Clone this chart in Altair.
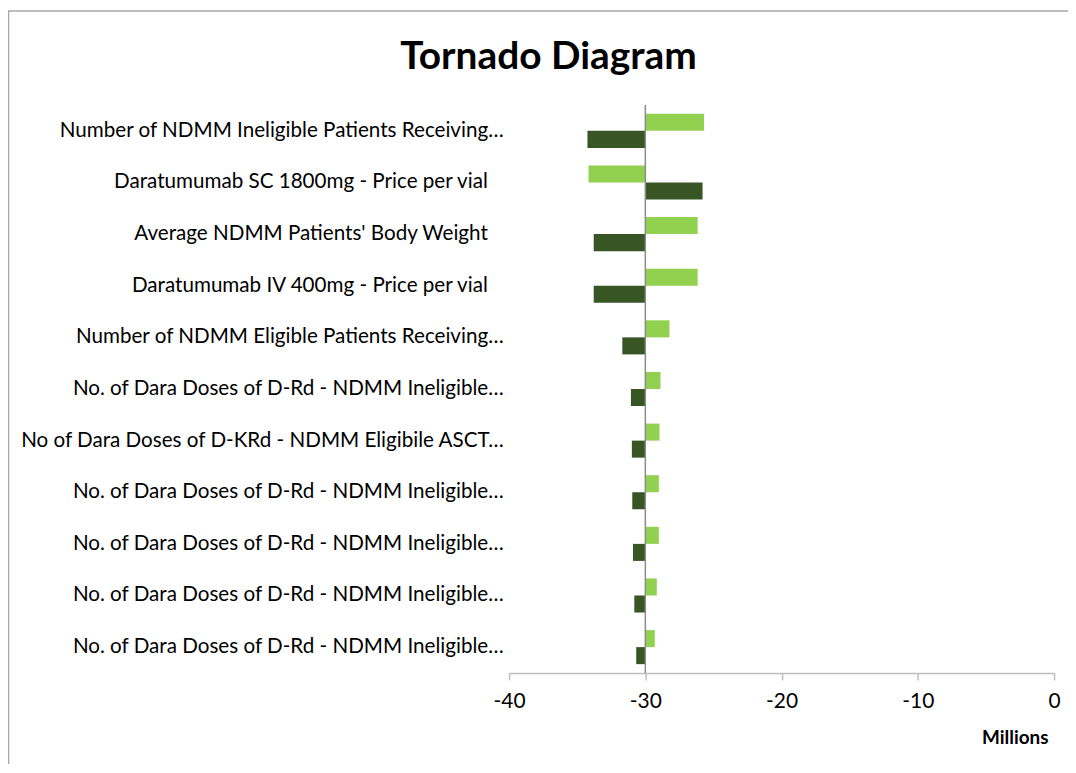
import json
import altair as alt
import pandas as pd

# ---- data ----
labels = [
    "Number of NDMM Ineligible Patients Receiving…",
    "Daratumumab SC 1800mg - Price per vial ",
    "Average NDMM Patients' Body Weight ",
    "Daratumumab IV 400mg - Price per vial ",
    "Number of NDMM Eligible Patients Receiving…",
    "No. of Dara Doses of D-Rd - NDMM Ineligible…",
    "No of Dara Doses of D-KRd - NDMM Eligibile ASCT…",
    "No. of Dara Doses of D-Rd - NDMM Ineligible…",
    "No. of Dara Doses of D-Rd - NDMM Ineligible…",
    "No. of Dara Doses of D-Rd - NDMM Ineligible…",
    "No. of Dara Doses of D-Rd - NDMM Ineligible…",
]
series_light = [-25.69, -34.17, -26.16, -26.16, -28.23, -28.89, -28.96, -29.01, -29.01, -29.16, -29.31]
series_dark = [-34.25, -25.80, -33.79, -33.79, -31.69, -31.06, -30.99, -30.96, -30.91, -30.81, -30.67]
base_value = -30.0
x_ticks = [-40, -30, -20, -10, 0]

series_names = ["Low", "High"]
series_colors = ["#92D050", "#375623"]

rows = []
for i in range(len(labels)):
    rows.append({"idx": i, "sub": 0, "series": series_names[0], "value": series_light[i], "base": base_value})
    rows.append({"idx": i, "sub": 1, "series": series_names[1], "value": series_dark[i], "base": base_value})
df = pd.DataFrame(rows)

# trailing blanks (as in the source labels) kept visible with no-break spaces
shown = [l.rstrip() + ("\u00a0\u00a0\u00a0\u200b" if l.endswith(" ") else "") for l in labels]
label_expr = json.dumps(shown, ensure_ascii=False) + "[datum.value]"

FONT = "Lato"

bars = alt.Chart(df).mark_bar().encode(
    y=alt.Y(
        "idx:O",
        scale=alt.Scale(paddingInner=0.34, paddingOuter=0.17),
        axis=alt.Axis(
            labelExpr=label_expr, domain=False, ticks=False, title=None,
            labelFont=FONT, labelFontSize=20.7, labelColor="#000000",
            labelPadding=6, labelLimit=520,
        ),
    ),
    yOffset=alt.YOffset("sub:O"),
    x=alt.X(
        "value:Q",
        scale=alt.Scale(domain=[-40, 0], nice=False, zero=False),
        axis=alt.Axis(
            values=x_ticks, grid=False, title="Millions",
            labelExpr="'' + datum.value", labelFlush=False, labelOverlap=False,
            domainColor="#BFBFBF", domainWidth=1.5,
            tickColor="#BFBFBF", tickWidth=1.5, tickSize=7,
            labelFont=FONT, labelFontSize=21, labelColor="#000000", labelPadding=11,
            titleFont=FONT, titleFontSize=19, titleFontWeight="bold", titleColor="#000000",
            titleAnchor="end", titleAlign="right", titleBaseline="alphabetic",
            titleX=541, titleY=71,
        ),
    ),
    x2="base:Q",
    color=alt.Color("series:N", scale=alt.Scale(domain=series_names, range=series_colors), legend=None),
)

center = alt.Chart(pd.DataFrame({"base": [base_value]})).mark_rule(
    color="#8C8C8C", strokeWidth=1.5
).encode(x="base:Q")

frame = alt.Chart(pd.DataFrame({"a": [0]})).mark_rect(
    fill=None, stroke="#A6A6A6", strokeWidth=1.5, clip=False
).encode(
    x=alt.value(-502.5), x2=alt.value(590), y=alt.value(-94.5), y2=alt.value(700)
)

chart = alt.layer(frame, bars, center).properties(
    width=547,
    height=570,
    padding={"left": 503, "top": 96, "right": 14, "bottom": 90},
    autosize=alt.AutoSizeParams(type="none"),
    title=alt.Title(
        "Tornado Diagram", font=FONT, fontSize=39, fontWeight="bold", color="#000000",
        anchor="middle", frame="group", dx=-234, dy=98, baseline="alphabetic", offset=0,
    ),
).configure_view(stroke=None)

chart.save("out.html", embed_options={"renderer": "svg", "actions": False})
